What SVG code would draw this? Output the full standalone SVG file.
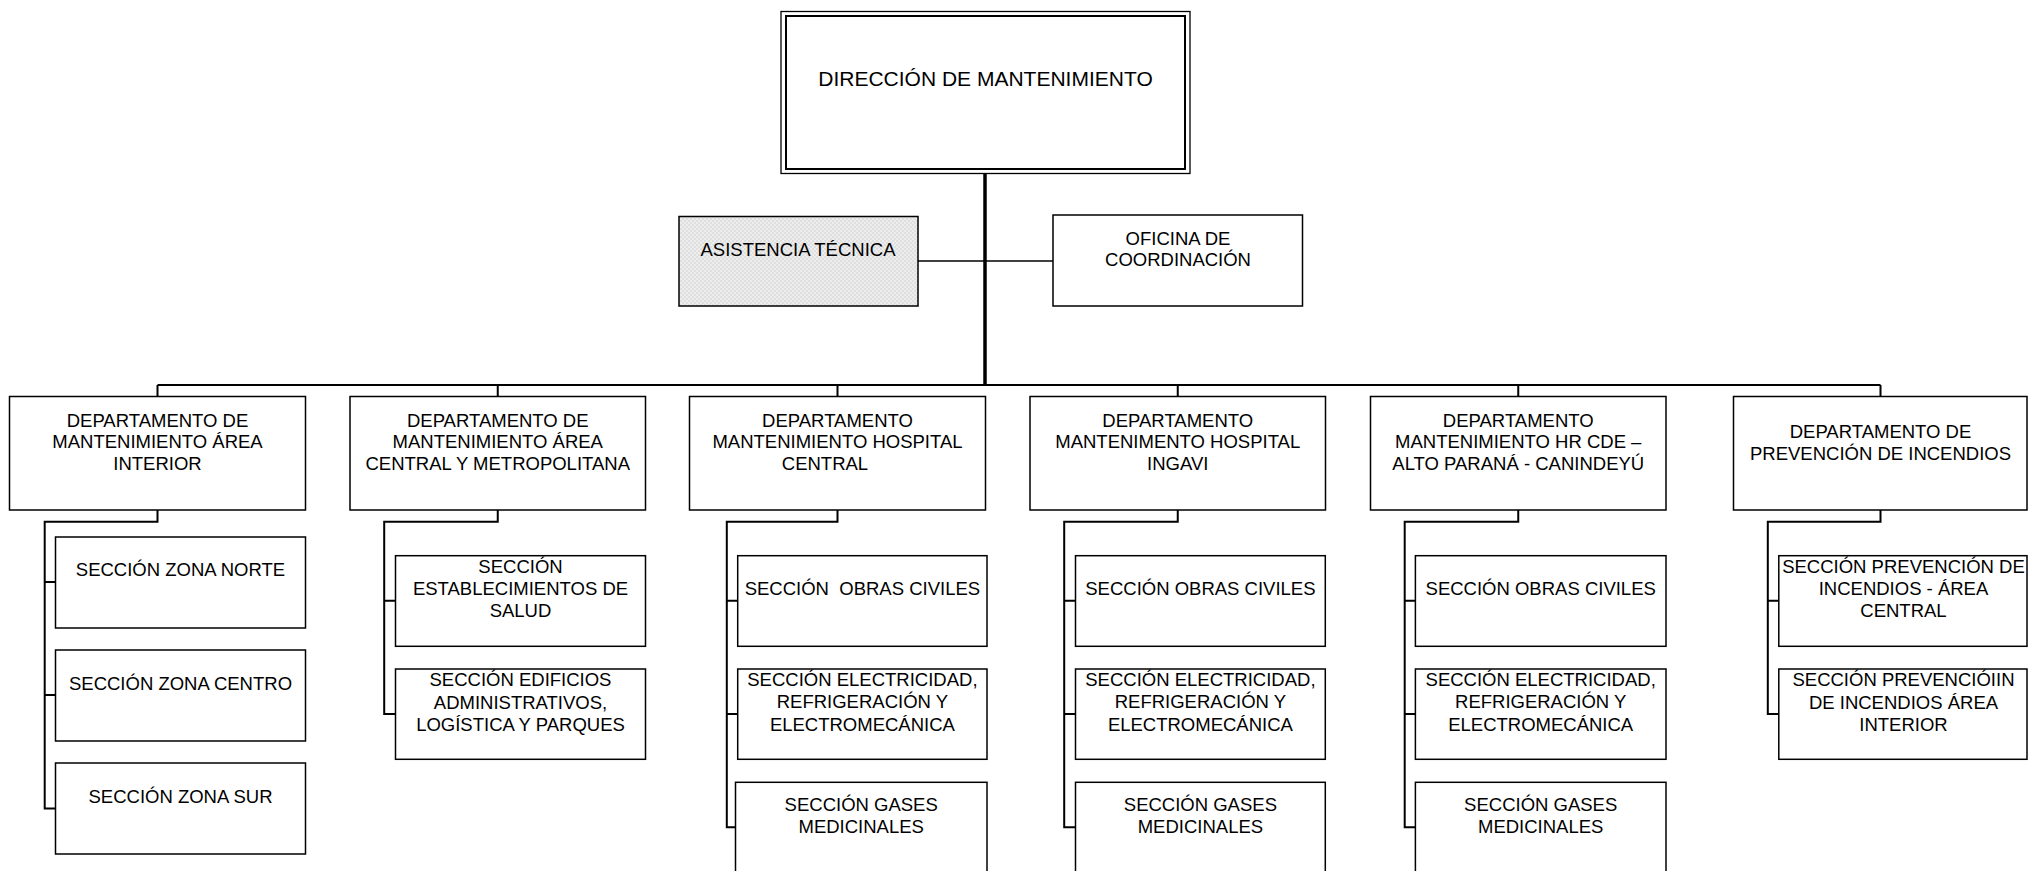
<svg xmlns="http://www.w3.org/2000/svg" width="2028" height="871" viewBox="0 0 2028 871">
<style>
.box{fill:#fff;stroke:#000;stroke-width:1.5}
.t{font-family:"Liberation Sans",Arial,sans-serif;font-size:18.5px;text-anchor:middle;fill:#000}
.title{font-size:21px}
.con{fill:none;stroke:#000;stroke-width:2}
</style>
<defs>
<pattern id="dots" width="4" height="4" patternUnits="userSpaceOnUse">
<rect width="4" height="4" fill="#ededed"/>
<circle cx="1" cy="1" r="0.8" fill="#cdcdcd"/>
<circle cx="3" cy="3" r="0.8" fill="#cdcdcd"/>
</pattern>
</defs>
<g id="connectors">
<line x1="985" y1="174" x2="985" y2="385" stroke="#000" stroke-width="3.5"/>
<line x1="918" y1="261" x2="1053" y2="261" stroke="#000" stroke-width="1.6"/>
<path class="con" d="M157.5 385H1880.5M157.5 385V396.5M497.75 385V396.5M837.5 385V396.5M1177.75 385V396.5M1518.25 385V396.5M1880.5 385V396.5"/>
<path class="con" d="M157.5 510V521.7H44.7V808.5H55.5M44.7 582H55.5M44.7 695H55.5"/>
<path class="con" d="M497.75 510V521.7H384.2V714H395.5M384.2 600.7H395.5"/>
<path class="con" d="M837.5 510V521.7H726.8V827.3H735.5M726.8 600.7H737.7M726.8 714H737.7"/>
<path class="con" d="M1177.75 510V521.7H1064.2V827.3H1075.5M1064.2 600.7H1075.5M1064.2 714H1075.5"/>
<path class="con" d="M1518.25 510V521.7H1404.7V827.3H1415.4M1404.7 600.7H1415.4M1404.7 714H1415.4"/>
<path class="con" d="M1880.5 510V521.7H1767.8V714H1778.8M1767.8 600.7H1778.8"/>
</g>
<g id="direccion">
<rect x="781" y="11.5" width="409" height="162" fill="#fff" stroke="#000" stroke-width="1.3"/>
<rect x="786" y="16" width="399" height="153" fill="none" stroke="#000" stroke-width="2"/>
<text class="t title" x="985.5" y="86">DIRECCIÓN DE MANTENIMIENTO</text>
</g>
<g id="asistencia">
<rect x="679" y="216.5" width="239" height="89.5" fill="url(#dots)" stroke="#000" stroke-width="1.5"/>
<text class="t" x="798" y="256">ASISTENCIA TÉCNICA</text>
</g>
<g id="oficina">
<rect class="box" x="1053" y="215" width="249.5" height="91"/>
<text class="t" x="1178" y="245">OFICINA DE</text>
<text class="t" x="1178" y="266">COORDINACIÓN</text>
</g>
<g id="dep1">
<rect class="box" x="9.5" y="396.5" width="296" height="113.5"/>
<text class="t" x="157.5" y="426.7">DEPARTAMENTO DE</text>
<text class="t" x="157.5" y="448.3">MANTENIMIENTO ÁREA</text>
<text class="t" x="157.5" y="470">INTERIOR</text>
</g>
<g id="dep2">
<rect class="box" x="350" y="396.5" width="295.5" height="113.5"/>
<text class="t" x="497.75" y="426.7">DEPARTAMENTO DE</text>
<text class="t" x="497.75" y="448.3">MANTENIMIENTO ÁREA</text>
<text class="t" x="497.75" y="470">CENTRAL Y METROPOLITANA</text>
</g>
<g id="dep3">
<rect class="box" x="689.5" y="396.5" width="296" height="113.5"/>
<text class="t" x="837.5" y="426.7">DEPARTAMENTO</text>
<text class="t" x="837.5" y="448.3">MANTENIMIENTO HOSPITAL</text>
<text class="t" x="825" y="470">CENTRAL</text>
</g>
<g id="dep4">
<rect class="box" x="1030" y="396.5" width="295.5" height="113.5"/>
<text class="t" x="1177.75" y="426.7">DEPARTAMENTO</text>
<text class="t" x="1177.75" y="448.3">MANTENIMENTO HOSPITAL</text>
<text class="t" x="1177.75" y="470">INGAVI</text>
</g>
<g id="dep5">
<rect class="box" x="1370.5" y="396.5" width="295.5" height="113.5"/>
<text class="t" x="1518.25" y="426.7">DEPARTAMENTO</text>
<text class="t" x="1518.25" y="448.3">MANTENIMIENTO HR CDE –</text>
<text class="t" x="1518.25" y="470">ALTO PARANÁ - CANINDEYÚ</text>
</g>
<g id="dep6">
<rect class="box" x="1733.5" y="396.5" width="293.5" height="113.5"/>
<text class="t" x="1880.5" y="438.3">DEPARTAMENTO DE</text>
<text class="t" x="1880.5" y="460">PREVENCIÓN DE INCENDIOS</text>
</g>
<g id="sec1a">
<rect class="box" x="55.5" y="537" width="250" height="91"/>
<text class="t" x="180.5" y="576">SECCIÓN ZONA NORTE</text>
</g>
<g id="sec1b">
<rect class="box" x="55.5" y="650" width="250" height="91"/>
<text class="t" x="180.5" y="690">SECCIÓN ZONA CENTRO</text>
</g>
<g id="sec1c">
<rect class="box" x="55.5" y="763" width="250" height="91"/>
<text class="t" x="180.5" y="802.7">SECCIÓN ZONA SUR</text>
</g>
<g id="sec2a">
<rect class="box" x="395.5" y="555.7" width="250" height="90.6"/>
<text class="t" x="520.5" y="572.7">SECCIÓN</text>
<text class="t" x="520.5" y="595">ESTABLECIMIENTOS DE</text>
<text class="t" x="520.5" y="617.3">SALUD</text>
</g>
<g id="sec2b">
<rect class="box" x="395.5" y="669" width="250" height="90.3"/>
<text class="t" x="520.5" y="686">SECCIÓN EDIFICIOS</text>
<text class="t" x="520.5" y="708.5">ADMINISTRATIVOS,</text>
<text class="t" x="520.5" y="730.7">LOGÍSTICA Y PARQUES</text>
</g>
<g id="sec3a">
<rect class="box" x="737.7" y="555.7" width="249.3" height="90.6"/>
<text class="t" x="862.4" y="595" xml:space="preserve">SECCIÓN  OBRAS CIVILES</text>
</g>
<g id="sec3b">
<rect class="box" x="737.7" y="669" width="249.3" height="90.3"/>
<text class="t" x="862.4" y="686">SECCIÓN ELECTRICIDAD,</text>
<text class="t" x="862.4" y="708.3">REFRIGERACIÓN Y</text>
<text class="t" x="862.4" y="730.7">ELECTROMECÁNICA</text>
</g>
<g id="sec3c">
<rect class="box" x="735.5" y="782.3" width="251.5" height="120"/>
<text class="t" x="861.2" y="810.7">SECCIÓN GASES</text>
<text class="t" x="861.2" y="832.7">MEDICINALES</text>
</g>
<g id="sec4a">
<rect class="box" x="1075.5" y="555.7" width="249.8" height="90.6"/>
<text class="t" x="1200.4" y="595">SECCIÓN OBRAS CIVILES</text>
</g>
<g id="sec4b">
<rect class="box" x="1075.5" y="669" width="249.8" height="90.3"/>
<text class="t" x="1200.4" y="686">SECCIÓN ELECTRICIDAD,</text>
<text class="t" x="1200.4" y="708.3">REFRIGERACIÓN Y</text>
<text class="t" x="1200.4" y="730.7">ELECTROMECÁNICA</text>
</g>
<g id="sec4c">
<rect class="box" x="1075.5" y="782.3" width="249.8" height="120"/>
<text class="t" x="1200.4" y="810.7">SECCIÓN GASES</text>
<text class="t" x="1200.4" y="832.7">MEDICINALES</text>
</g>
<g id="sec5a">
<rect class="box" x="1415.4" y="555.7" width="250.6" height="90.6"/>
<text class="t" x="1540.7" y="595">SECCIÓN OBRAS CIVILES</text>
</g>
<g id="sec5b">
<rect class="box" x="1415.4" y="669" width="250.6" height="90.3"/>
<text class="t" x="1540.7" y="686">SECCIÓN ELECTRICIDAD,</text>
<text class="t" x="1540.7" y="708.3">REFRIGERACIÓN Y</text>
<text class="t" x="1540.7" y="730.7">ELECTROMECÁNICA</text>
</g>
<g id="sec5c">
<rect class="box" x="1415.4" y="782.3" width="250.6" height="120"/>
<text class="t" x="1540.7" y="810.7">SECCIÓN GASES</text>
<text class="t" x="1540.7" y="832.7">MEDICINALES</text>
</g>
<g id="sec6a">
<rect class="box" x="1778.8" y="555.7" width="248.2" height="90.6"/>
<text class="t" x="1903.5" y="572.7">SECCIÓN PREVENCIÓN DE</text>
<text class="t" x="1903.5" y="595">INCENDIOS - ÁREA</text>
<text class="t" x="1903.5" y="617.3">CENTRAL</text>
</g>
<g id="sec6b">
<rect class="box" x="1778.8" y="669" width="248.2" height="90.3"/>
<text class="t" x="1903.5" y="686">SECCIÓN PREVENCIÓIIN</text>
<text class="t" x="1903.5" y="708.5">DE INCENDIOS ÁREA</text>
<text class="t" x="1903.5" y="730.7">INTERIOR</text>
</g>
</svg>
